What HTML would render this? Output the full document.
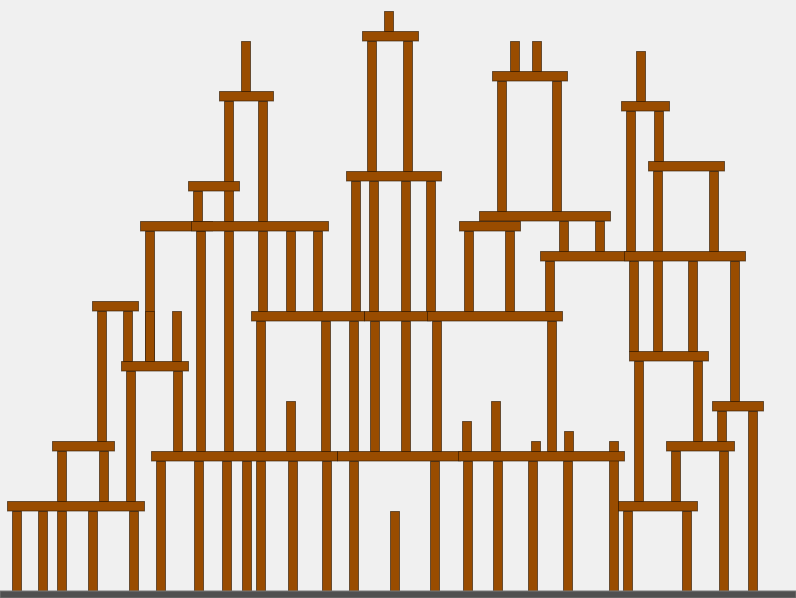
<!DOCTYPE html>
<html><head><meta charset="utf-8">
<style>
html,body{margin:0;padding:0;background:#f0f0f0;}
svg{display:block;}
rect.b{fill:#994c00;stroke:rgba(40,20,0,0.6);stroke-width:1;}
</style></head>
<body>
<svg id="scene" width="796" height="598" viewBox="0 0 796 598" xmlns="http://www.w3.org/2000/svg">
<rect x="0" y="0" width="796" height="598" fill="#f0f0f0"/>
<g id="posts"></g>
<g id="planks"></g>
<rect x="0" y="591" width="796" height="7" fill="#505050" stroke="#777" stroke-width="1"/>
</svg>
<script>
// vertical posts: [x, top, bottom]
const posts = [
[241,41,91],[224,101,221],[258,101,221],[193,191,221],
[145,231,361],[196,231,451],[224,231,451],[258,231,311],[286,231,311],[313,231,311],
[384,11,31],[367,41,171],[403,41,171],
[351,181,311],[369,181,311],[401,181,311],[426,181,311],
[510,41,71],[532,41,71],[497,81,211],[552,81,211],
[464,231,311],[505,231,311],[559,221,251],[595,221,251],[545,261,311],
[636,51,101],[626,111,251],[654,111,161],[653,171,351],[709,171,251],
[629,261,351],[688,261,351],[730,261,401],
[97,311,441],[123,311,361],[145,311,361],[172,311,361],[126,371,501],[173,371,451],
[256,321,451],[321,321,451],[349,321,451],[370,321,451],[401,321,451],[432,321,451],[547,321,451],
[286,401,451],[462,421,451],[491,401,451],[531,441,451],[564,431,451],
[57,451,501],[99,451,501],
[12,511,591],[38,511,591],[57,511,591],[88,511,591],[129,511,591],
[156,461,591],[194,461,591],[222,461,591],[242,461,591],[256,461,591],[288,461,591],[322,461,591],[349,461,591],
[390,511,591],[430,461,591],[463,461,591],[493,461,591],[528,461,591],[563,461,591],[609,441,591],
[634,361,501],[693,361,441],[717,411,441],[748,411,591],[671,451,501],[719,451,591],
[623,511,591],[682,511,591]
];
// horizontal planks: [left, right, top]
const planks = [
[219,273,91],[188,239,181],[140,212,221],[191,328,221],
[362,418,31],[346,441,171],
[492,567,71],[479,610,211],[459,520,221],[540,630,251],[624,745,251],
[621,669,101],[648,724,161],
[92,138,301],[121,188,361],
[251,364,311],[364,430,311],[427,562,311],
[629,708,351],[712,763,401],[666,734,441],
[52,114,441],[151,337,451],[337,460,451],[458,624,451],
[7,144,501],[618,697,501]
];
const NS='http://www.w3.org/2000/svg';
const gp=document.getElementById('posts');
posts.forEach(function(p){
  const r=document.createElementNS(NS,'rect');
  r.setAttribute('class','b');
  r.setAttribute('x',p[0]+0.5);r.setAttribute('y',p[1]+0.5);
  r.setAttribute('width',9);r.setAttribute('height',p[2]-p[1]);
  
  
  gp.appendChild(r);
});
const gk=document.getElementById('planks');
planks.forEach(function(p){
  const r=document.createElementNS(NS,'rect');
  r.setAttribute('class','b');
  r.setAttribute('x',p[0]+0.5);r.setAttribute('y',p[2]+0.5);
  r.setAttribute('width',p[1]-p[0]);r.setAttribute('height',9.5);
  
  
  gk.appendChild(r);
});
</script>
</body></html>
